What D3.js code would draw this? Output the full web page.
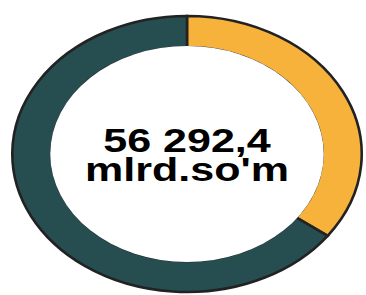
<!DOCTYPE html>
<html lang="en">
<head>
    <meta charset="UTF-8">
    <title>Donut</title>
    <script src="https://d3js.org/d3.v7.min.js"></script>
    <style>
        body { margin: 0; background: #fff; }
    </style>
</head>
<body>
    <div id="donut"></div>
    <script>
        // shares of the total (percent)
        const segments = ["Yellow part", "Green part"];
        const shares = [35.1, 64.9];
        const colors = ["#F7B23B", "#264D4F"];
        const totalLabel = ["56 292,4", "mlrd.so'm"];

        const width = 366;
        const height = 295;
        const cx = 187, cy = 154;
        const stretchX = 1.266; // picture is wider than tall
        const outerR = 138;
        const innerR = 107;

        const svg = d3.select("#donut")
            .append("svg")
            .attr("width", width)
            .attr("height", height);

        const g = svg.append("g")
            .attr("transform", `translate(${cx},${cy}) scale(${stretchX},1)`);

        const pie = d3.pie().sort(null).value(d => d);
        const arc = d3.arc().innerRadius(innerR).outerRadius(outerR);

        g.selectAll("path.slice")
            .data(pie(shares))
            .enter()
            .append("path")
            .attr("class", "slice")
            .attr("d", arc)
            .attr("fill", (d, i) => colors[i])
            .attr("stroke", "#222")
            .attr("stroke-width", 2.6)
            .attr("vector-effect", "non-scaling-stroke");

        // hide the stroke on the inner edge
        g.append("circle")
            .attr("r", innerR + 1)
            .attr("fill", "#fff");

        // centre text
        const label = g.append("text")
            .attr("text-anchor", "middle")
            .attr("font-family", "Liberation Sans, Arial, sans-serif")
            .attr("font-weight", "bold")
            .attr("font-size", 34)
            .attr("fill", "#000");

        label.append("tspan").attr("x", 0).attr("y", -2).text(totalLabel[0]);
        label.append("tspan").attr("x", 0).attr("y", 27).text(totalLabel[1]);
    </script>
</body>
</html>
